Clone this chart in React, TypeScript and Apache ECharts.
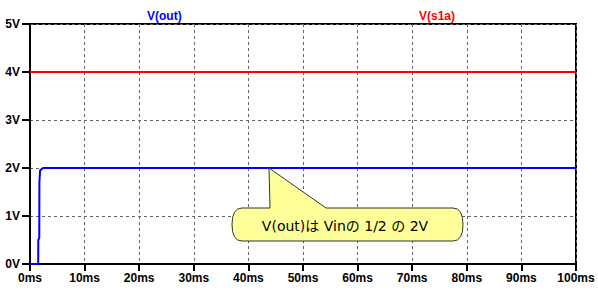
import React, { useEffect, useRef } from "react";
import * as echarts from "echarts";

const outTimes = [0, 1.5, 1.52, 1.7, 1.72, 1.85, 2.4, 100];
const outValues = [0, 0, 0.5, 0.55, 1.7, 1.95, 2.0, 2.0];
const s1aTimes = [0, 100];
const s1aValues = [4, 4];
const calloutText = "V(out)は Vinの 1/2 の 2V";

let registered = false;
function registerBubble() {
  if (registered) return;
  registered = true;
  const d =
    "M 242 208 L 270 208 L 269 168 L 326 208 L 453 208 Q 463 208 463 224.5 Q 463 241 453 241 L 242 241 Q 232 241 232 224.5 Q 232 208 242 208 Z";
  echarts.graphic.registerShape("bubble", echarts.graphic.extendPath(d, {}));
}

export default function App() {
  const ref = useRef<HTMLDivElement>(null);
  useEffect(() => {
    if (!ref.current) return;
    registerBubble();
    const chart = echarts.init(ref.current, undefined, { renderer: "svg" });
    const labelFont = {
      color: "#000",
      fontWeight: "bold" as const,
      fontSize: 12,
      fontFamily: "Liberation Sans",
    };
    chart.setOption({
      animation: false,
      backgroundColor: "#fff",
      grid: {
        left: 30,
        top: 24,
        right: 22,
        bottom: 27,
        show: true,
        borderColor: "#000",
        borderWidth: 2,
      },
      xAxis: {
        type: "value",
        min: 0,
        max: 100,
        interval: 10,
        axisLine: { show: true, lineStyle: { color: "#000", width: 2 } },
        axisTick: { show: true, length: 7, lineStyle: { color: "#000", width: 2 } },
        axisLabel: { ...labelFont, margin: 8, formatter: "{value}ms" },
        splitLine: { show: true, lineStyle: { color: "#666", type: [3, 3], width: 1 } },
      },
      yAxis: {
        type: "value",
        min: 0,
        max: 5,
        interval: 1,
        axisLine: { show: true, lineStyle: { color: "#000", width: 2 } },
        axisTick: { show: true, length: 8, lineStyle: { color: "#000", width: 2 } },
        axisLabel: { ...labelFont, margin: 10, formatter: "{value}V" },
        splitLine: { show: true, lineStyle: { color: "#666", type: [3, 3], width: 1 } },
      },
      series: [
        {
          type: "line",
          name: "V(s1a)",
          data: s1aTimes.map((t, i) => [t, s1aValues[i]]),
          symbol: "none",
          lineStyle: { color: "#ff0000", width: 2 },
          z: 3,
        },
        {
          type: "line",
          name: "V(out)",
          data: outTimes.map((t, i) => [t, outValues[i]]),
          symbol: "none",
          lineStyle: { color: "#0000ff", width: 2 },
          z: 4,
        },
      ],
      graphic: [
        {
          type: "text",
          left: 147,
          top: 10,
          style: {
            text: "V(out)",
            fill: "#0000ff",
            fontWeight: "bold",
            fontSize: 12,
            fontFamily: "Liberation Sans",
          },
        },
        {
          type: "text",
          left: 419,
          top: 10,
          style: {
            text: "V(s1a)",
            fill: "#ff0000",
            fontWeight: "bold",
            fontSize: 12,
            fontFamily: "Liberation Sans",
          },
        },
        {
          type: "bubble",
          x: 0,
          y: 0,
          z: 100,
          style: { fill: "#ffff99", stroke: "#333", lineWidth: 1 },
        },
        {
          type: "text",
          x: 345,
          y: 226,
          z: 101,
          style: {
            text: calloutText,
            fill: "#000",
            fontSize: 14,
            fontFamily: "DejaVu Sans, Noto Sans CJK JP",
            align: "center",
            verticalAlign: "middle",
          },
        },
      ],
    });
    return () => chart.dispose();
  }, []);
  return (
    <div
      ref={ref}
      style={{ position: "fixed", left: 0, top: 0, width: 598, height: 291 }}
    />
  );
}
